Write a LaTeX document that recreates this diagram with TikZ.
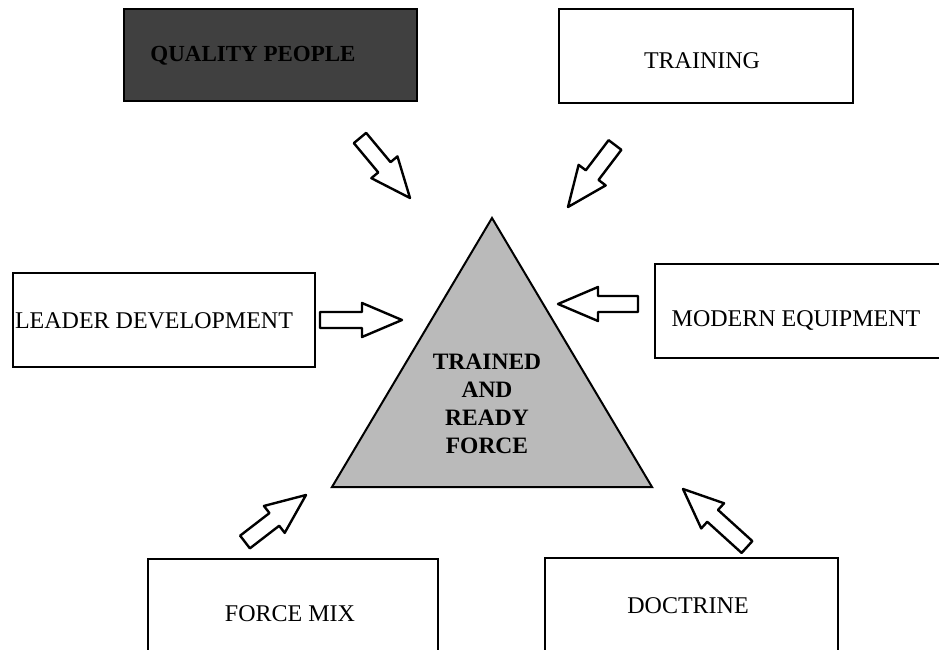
\documentclass[tikz,border=0pt]{standalone}
\usepackage{fontspec}
\setmainfont{Liberation Serif}
\usetikzlibrary{calc}
\tikzset{
  boxframe/.style={draw=black, line width=2pt, rectangle, inner sep=0pt},
  boxlabel/.style={font=\fontsize{24}{26}\selectfont, inner sep=0pt, anchor=center},
  corelabel/.style={font=\fontsize{23.5}{28}\selectfont\bfseries, align=center, inner sep=0pt},
  barrow/.style={draw=black, line width=2.4pt, line join=round, fill=white},
  trianglefill/.style={fill=black!27, draw=black, line width=2pt, line join=miter}
}
\newcommand{\myblockarrow}[2]{%
  \coordinate (#2-b) at ($(#2)!40pt!(#1)$);
  \draw[barrow] ($(#1)!8pt!90:(#2)$) -- ($(#2-b)!8pt!-90:(#1)$) -- ($(#2-b)!17pt!-90:(#1)$) -- (#2)
     -- ($(#2-b)!17pt!90:(#1)$) -- ($(#2-b)!8pt!90:(#1)$) -- ($(#1)!8pt!-90:(#2)$) -- cycle;}
\begin{document}
\begin{tikzpicture}[x=1pt, y=-1pt]
\useasboundingbox[fill=white] (0,0) rectangle (939,650);

% boxes
\node[boxframe, fill=black!75, minimum width=293pt, minimum height=92pt] (qp) at (270.5,55) {};
\node[boxlabel, font=\fontsize{23}{26}\selectfont\bfseries] (qpl) at (253,56) {QUALITY PEOPLE};

\node[boxframe, minimum width=294pt, minimum height=94pt] (tr) at (706,56) {};
\node[boxlabel] (trl) at (702,61) {TRAINING};

\node[boxframe, minimum width=302pt, minimum height=94pt] (ld) at (164,320) {};
\node[boxlabel] (ldl) at (154,321) {LEADER DEVELOPMENT};

\draw[boxframe] (955,264) -- (655,264) -- (655,358) -- (955,358);
\node[boxlabel] (mel) at (796,320) {MODERN EQUIPMENT};

\draw[boxframe] (148,665) -- (148,559) -- (438,559) -- (438,665);
\node[boxlabel] (fml) at (290,614) {FORCE MIX};

\draw[boxframe] (545,665) -- (545,558) -- (838,558) -- (838,665);
\node[boxlabel] (dol) at (688,606) {DOCTRINE};

% triangle
\coordinate (apex) at (492,218);
\coordinate (bl) at (332,487);
\coordinate (br) at (652,487);
\filldraw[trianglefill] (apex) -- (bl) -- (br) -- cycle;
\node[corelabel] (core) at (487,404) {TRAINED\\AND\\READY\\FORCE};

% arrows
\coordinate (a1t) at (360,138);  \coordinate (a1h) at (410,198);
\coordinate (a2t) at (615,145);  \coordinate (a2h) at (568,207);
\coordinate (a3t) at (320,320);  \coordinate (a3h) at (402,320);
\coordinate (a4t) at (638,304);  \coordinate (a4h) at (558,304);
\coordinate (a5t) at (245,542);  \coordinate (a5h) at (306,495);
\coordinate (a6t) at (747,547);  \coordinate (a6h) at (683,489);
\myblockarrow{a1t}{a1h}
\myblockarrow{a2t}{a2h}
\myblockarrow{a3t}{a3h}
\myblockarrow{a4t}{a4h}
\myblockarrow{a5t}{a5h}
\myblockarrow{a6t}{a6h}
\end{tikzpicture}
\end{document}
